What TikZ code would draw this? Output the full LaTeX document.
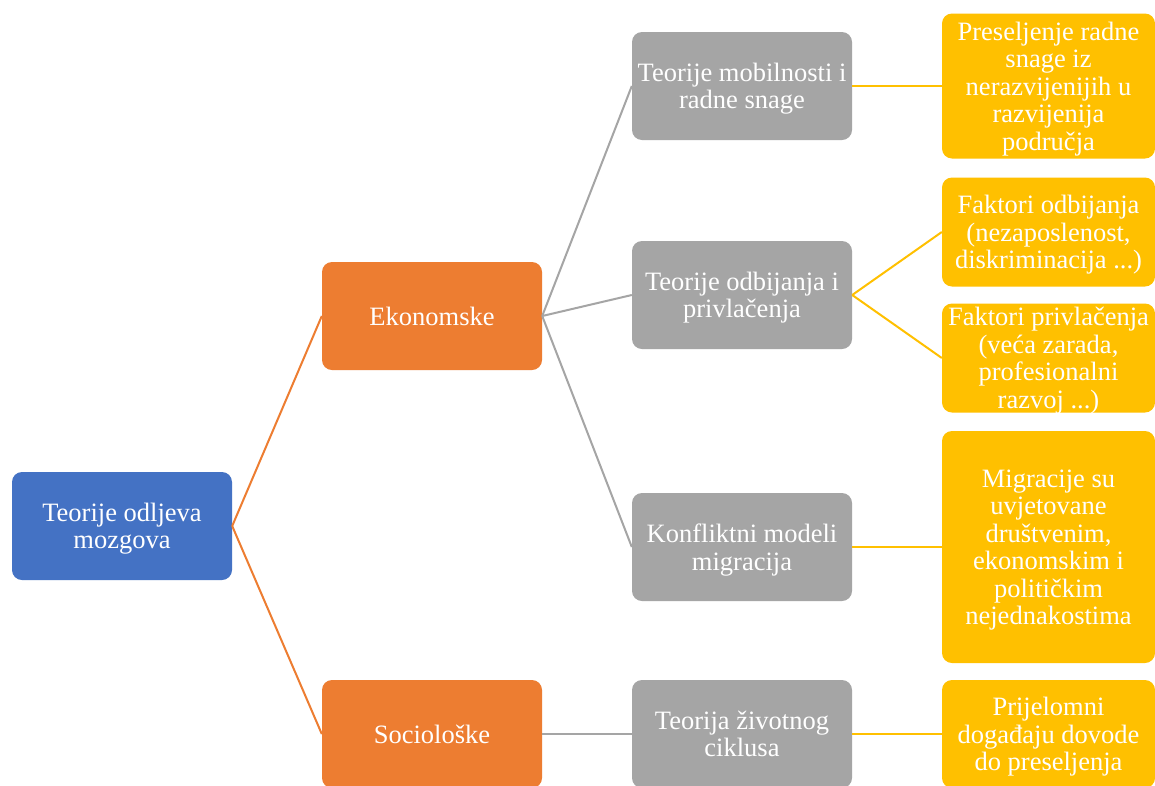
\documentclass[tikz,border=0pt]{standalone}
\usepackage{fontspec}
\setmainfont{Liberation Serif}
\definecolor{cblue}{HTML}{4472C4}
\definecolor{corange}{HTML}{ED7D31}
\definecolor{cgray}{HTML}{A5A5A5}
\definecolor{cyellow}{HTML}{FFC000}
\tikzset{
  box/.style={rectangle, rounded corners=10pt, inner sep=0pt, minimum width=220pt, minimum height=108pt,
    text=white, align=center, font=\fontsize{26.5}{27.5}\selectfont, text depth=-3pt},
  bluebox/.style={box, fill=cblue},
  orangebox/.style={box, fill=corange},
  graybox/.style={box, fill=cgray},
  yellowbox/.style={box, fill=cyellow, minimum width=213pt},
  oline/.style={draw=corange, line width=2pt},
  gline/.style={draw=cgray, line width=2pt},
  yline/.style={draw=cyellow, line width=2pt},
}
\begin{document}
\begin{tikzpicture}[x=1pt,y=1pt]
\useasboundingbox (0,0) rectangle (1155,-785);
\clip (0,0) rectangle (1155,-785);
\fill[white] (0,0) rectangle (1155,-785);
% level 0
\node[bluebox] (root) at (122,-526) {Teorije odljeva\\mozgova};
% level 1
\node[orangebox] (eko) at (432,-316) {Ekonomske};
\node[orangebox] (soc) at (432,-734) {Sociološke};
% level 2
\node[graybox] (mob) at (742,-86) {Teorije mobilnosti i\\radne snage};
\node[graybox] (odb) at (742,-295) {Teorije odbijanja i\\privlačenja};
\node[graybox] (kon) at (742,-547) {Konfliktni modeli\\migracija};
\node[graybox] (ziv) at (742,-734) {Teorija životnog\\ciklusa};
% level 3
\node[yellowbox, minimum height=145pt] (pres) at (1048.5,-86) {Preseljenje radne\\snage iz\\nerazvijenijih u\\razvijenija\\područja};
\node[yellowbox, minimum height=109pt] (fodb) at (1048.5,-232) {Faktori odbijanja\\(nezaposlenost,\\diskriminacija ...)};
\node[yellowbox, minimum height=109pt] (fpri) at (1048.5,-358) {Faktori privlačenja\\(veća zarada,\\profesionalni\\razvoj ...)};
\node[yellowbox, minimum height=232pt] (mig) at (1048.5,-547) {Migracije su\\uvjetovane\\društvenim,\\ekonomskim i\\političkim\\nejednakostima};
\node[yellowbox, minimum height=108pt] (pri) at (1048.5,-734) {Prijelomni\\događaju dovode\\do preseljenja};
% connectors
\draw[oline] (root.east) -- (eko.west);
\draw[oline] (root.east) -- (soc.west);
\draw[gline] (eko.east) -- (mob.west);
\draw[gline] (eko.east) -- (odb.west);
\draw[gline] (eko.east) -- (kon.west);
\draw[gline] (soc.east) -- (ziv.west);
\draw[yline] (mob.east) -- (pres.west);
\draw[yline] (odb.east) -- (fodb.west);
\draw[yline] (odb.east) -- (fpri.west);
\draw[yline] (kon.east) -- (mig.west);
\draw[yline] (ziv.east) -- (pri.west);
\end{tikzpicture}
\end{document}
